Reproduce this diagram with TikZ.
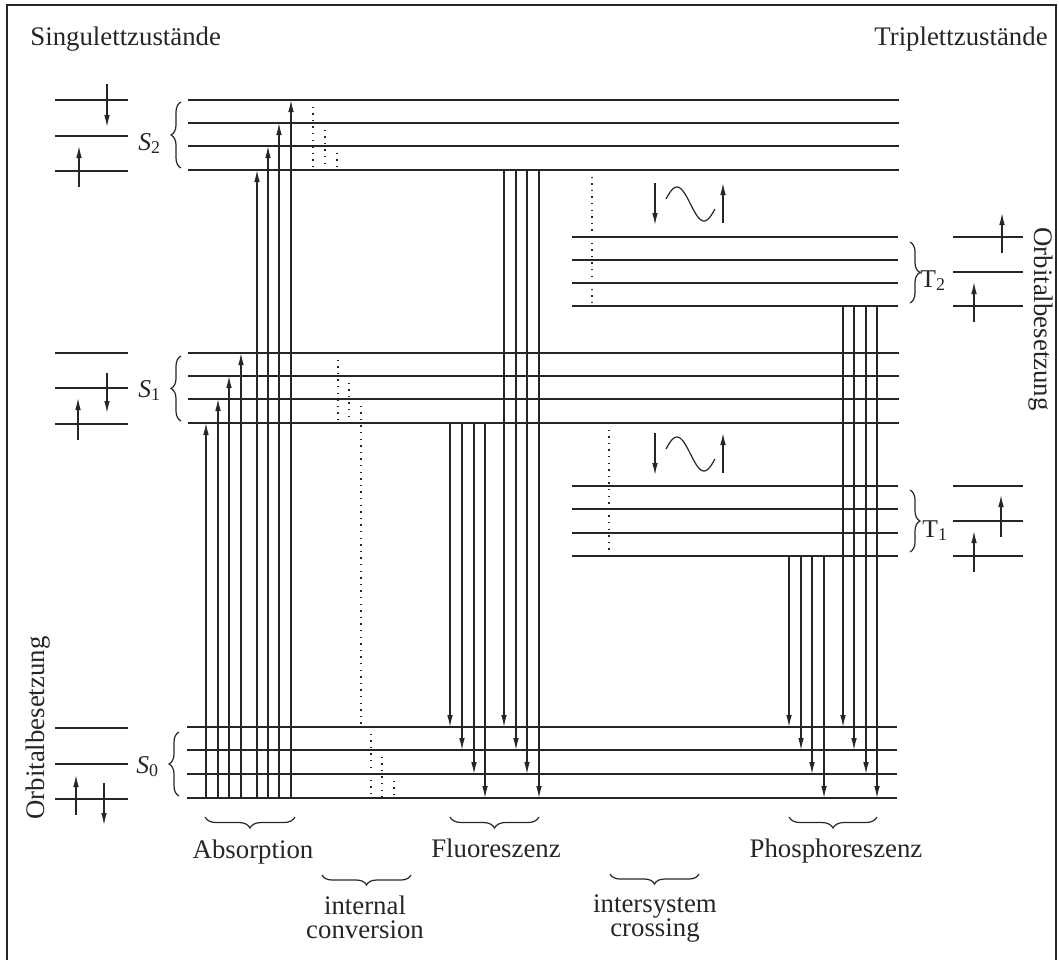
\documentclass[tikz,border=0pt]{standalone}
\usepackage{fontspec}
\setmainfont{Liberation Serif}
\usepackage{tikz}
\usetikzlibrary{arrows.meta, decorations.pathreplacing}

\definecolor{ink}{gray}{0.15}
\tikzset{
  level/.style={ink, line width=1.2pt},
  orb/.style={ink, line width=1.1pt},
  trans/.style={ink, line width=0.6pt},
  nonrad/.style={ink, line width=0.7pt, dash pattern=on 0.7pt off 2.6pt},
  brc/.style={ink, line width=0.6pt, decorate, decoration={brace, amplitude=#1}},
  brc/.default=5pt,
  lbl/.style={text=ink, inner sep=0pt, font=\fontsize{13.4}{12.4}\selectfont},
  sym/.style={text=ink, inner sep=0pt, font=\fontsize{12.8}{14}\selectfont},
  >={Latex[length=6pt, width=2.8pt]}
}

\begin{document}
\begin{tikzpicture}[x=0.5pt, y=-0.5pt]
  \useasboundingbox (0,0) rectangle (1059,960);
  \draw[ink, line width=0.8pt] (7,960) -- (7,5) -- (1056,5) -- (1056,960);
  \node[lbl, anchor=base west] (singulett) at (30,45) {Singulettzustände};
  \node[lbl, anchor=base east] (triplett) at (1048,45) {Triplettzustände};

  % energy levels
  \foreach \y in {100,123,146,170,353,376,399,423} \draw[level] (188,\y) -- (899,\y);
  \foreach \y in {727,750,774,798} \draw[level] (187,\y) -- (897,\y);
  \foreach \y in {237,260,283,306,486,509,533,556} \draw[level] (572,\y) -- (898,\y);

  % orbital occupation
  \foreach \y in {100,136,171,353,388,424,728,764,799} \draw[orb] (55,\y) -- (128,\y);
  \foreach \y in {237,272,306,486,521,556} \draw[orb] (953,\y) -- (1023,\y);
  \draw[trans, ->] (107,84) -- (107,127);
  \draw[trans, ->] (79,187) -- (79,146);
  \draw[trans, ->] (107,373) -- (107,413);
  \draw[trans, ->] (78,440) -- (78,398);
  \draw[trans, ->] (76,815) -- (76,775);
  \draw[trans, ->] (104,783) -- (104,825);
  \draw[trans, ->] (1002,253) -- (1002,213);
  \draw[trans, ->] (974,322) -- (974,282);
  \draw[trans, ->] (1001,537) -- (1001,495);
  \draw[trans, ->] (974,572) -- (974,531);
  \node[lbl, rotate=90, anchor=base] (orbl) at (44,728) {Orbitalbesetzung};
  \node[lbl, rotate=-90, anchor=base] (orbr) at (1034,319) {Orbitalbesetzung};

  % state labels
  \draw[brc] (181,168) -- (181,102);
  \draw[brc] (181,421) -- (181,356);
  \draw[brc] (179,796) -- (179,732);
  \draw[brc] (910,242) -- (910,303);
  \draw[brc] (910,490) -- (910,552);
  \node[sym, anchor=base west] (s2) at (138,150) {\textit{S}\textsubscript{2}};
  \node[sym, anchor=base west] (s1) at (138,397) {\textit{S}\textsubscript{1}};
  \node[sym, anchor=base west] (s0) at (136,773) {\textit{S}\textsubscript{0}};
  \node[sym, anchor=base west] (t2) at (920,287) {T\textsubscript{2}};
  \node[sym, anchor=base west] (t1) at (922,537) {T\textsubscript{1}};

  % radiative transitions
  \foreach \x/\y in {206/423,218/399,229/376,241/353,257/170,268/146,279/123,291/100}
    \draw[trans, ->] (\x,798) -- (\x,\y);
  \foreach \x/\y in {450/727,462/750,474/774,485/798}
    \draw[trans, ->] (\x,423) -- (\x,\y);
  \foreach \x/\y in {504/727,516/750,527/774,539/798}
    \draw[trans, ->] (\x,170) -- (\x,\y);
  \foreach \x/\y in {789/727,801/750,812/774,824/798}
    \draw[trans, ->] (\x,556) -- (\x,\y);
  \foreach \x/\y in {843/727,854/750,866/774,877/798}
    \draw[trans, ->] (\x,306) -- (\x,\y);

  % non-radiative transitions
  \foreach \x/\a/\b in {313/100/170,325/123/170,337/146/170,338/353/423,349/376/423,361/399/727,
                        371/727/798,382/750/798,394/774/798,592/170/306,609/423/556}
    \draw[nonrad] (\x,\a) -- (\x,\b);

  % spin flip
  \foreach \c in {204,454} {
    \draw[trans, ->] (655,\c-21) -- (655,\c+21);
    \draw[trans, ->] (723,\c+19) -- (723,\c-21);
    \draw[trans] plot[domain=17:343, samples=40] ({666+(\x-17)*0.15}, {\c-17*sin(\x)});
  }

  % process labels
  \draw[brc=5.5pt] (295,817) -- (205,817);
  \draw[brc=5.5pt] (539,817) -- (450,817);
  \draw[brc=5.5pt] (877,817) -- (789,817);
  \draw[brc=5pt] (411,875) -- (322,875);
  \draw[brc=5pt] (699,874) -- (610,874);
  \node[lbl, anchor=base] (absorption) at (253,858) {Absorption};
  \node[lbl, anchor=base] (fluoreszenz) at (496,857) {Fluoreszenz};
  \node[lbl, anchor=base] (phosphoreszenz) at (836,857) {Phosphoreszenz};
  \node[lbl, align=center, anchor=north] (ic) at (365,895) {internal\\conversion};
  \node[lbl, align=center, anchor=north] (isc) at (655,894) {intersystem\\crossing};
\end{tikzpicture}
\end{document}
